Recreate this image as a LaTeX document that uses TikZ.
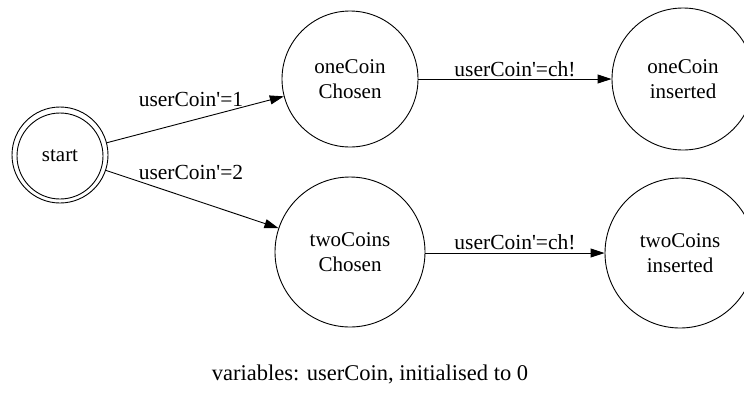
\documentclass[tikz,border=0pt]{standalone}
\usepackage{fontspec}
\setmainfont{Liberation Serif}
\usetikzlibrary{arrows.meta}
\newcommand{\primemark}{\textquotesingle}
\begin{document}
\begin{tikzpicture}[x=1pt,y=-1pt,
  state/.style={draw, circle, line width=0.9pt, inner sep=0pt, align=center,
    font=\fontsize{21}{25}\selectfont},
  lbl/.style={inner sep=0pt, font=\fontsize{21.5}{24}\selectfont},
  arr/.style={draw, line width=0.9pt, -{Triangle[length=14pt,width=9pt]}}]
  \clip (0,0) rectangle (744,392);
  % initial state, drawn as two concentric rings
  \node[state, minimum size=96pt] (start) at (60,155) {};
  \node[state, minimum size=86pt] (startin) at (60,156) {start};
  % states
  \node[state, minimum size=136pt] (oneChosen) at (350,79) {oneCoin\\Chosen};
  \node[state, minimum size=150pt] (twoChosen) at (350,252) {twoCoins\\Chosen};
  \node[state, minimum size=142pt] (oneIns) at (683,79) {oneCoin\\inserted};
  \node[state, minimum size=150pt] (twoIns) at (680,253) {twoCoins\\inserted};
  % transitions
  \draw[arr] (start) -- (oneChosen);
  \draw[arr] (start) -- (twoChosen);
  \draw[arr] (oneChosen) -- (oneIns);
  \draw[arr] (twoChosen.east |- 0,253) coordinate (tcE) -- (twoIns);
  % transition labels
  \node[lbl] (l1) at (191,99) {userCoin\primemark=1};
  \node[lbl] (l2) at (191,172) {userCoin\primemark=2};
  \node[lbl] (l3) at (515,69) {userCoin\primemark=ch!};
  \node[lbl] (l4) at (515,242) {userCoin\primemark=ch!};
  % footnote
  \node[lbl, font=\fontsize{22.5}{26}\selectfont] (vars) at (370,374) {variables: userCoin, initialised to 0};
\end{tikzpicture}
\end{document}
